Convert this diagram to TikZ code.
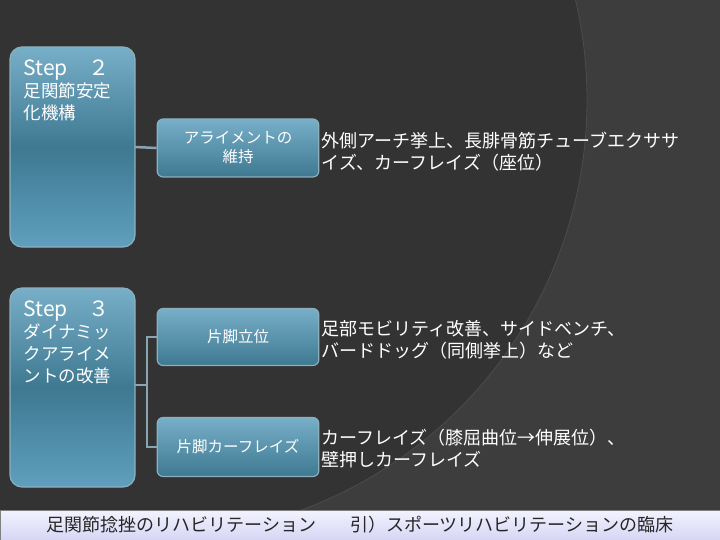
\documentclass[tikz,border=0pt]{standalone}
\usepackage{fontspec}
\setmainfont{Noto Sans CJK JP}
\definecolor{btop}{RGB}{120,175,200}
\definecolor{bmid}{RGB}{62,120,145}
\definecolor{bbot}{RGB}{95,160,190}
\definecolor{bdr}{RGB}{140,175,190}
\begin{document}
\begin{tikzpicture}[x=1pt,y=-1pt,
  big/.style={draw=bdr,line width=1.2pt,rounded corners=12pt,top color=btop,bottom color=bbot,middle color=bmid},
  small/.style={draw=bdr,line width=1.2pt,rounded corners=6pt,top color=btop,bottom color=bmid,minimum width=160pt,text width=155pt,align=center,text=white,font=\fontsize{15.5}{19}\selectfont},
  desc/.style={anchor=west,text=white,align=left,font=\fontsize{18}{22}\selectfont},
  steptxt/.style={anchor=north west,text=white,align=left,font=\fontsize{17.5}{22}\selectfont},
  conn/.style={draw=bdr!80!gray,line width=2.5pt}]
\fill[black!80] (0,0) rectangle (720,540);
\begin{scope}
\clip (0,0) rectangle (720,540);
\fill[black!76] (150,100) ++(-13.2:437) arc[start angle=-13.2,end angle=72,radius=437] -- (720,540) -- (720,0) -- cycle;
\fill[black!80] (150,100) circle[radius=437];
\draw[black!70,line width=0.8pt] (150,100) circle[radius=437];
\end{scope}
\useasboundingbox (0,0) rectangle (720,540);
% step boxes
\path[big] (10,47) rectangle (135,247);
\path[big] (10,288) rectangle (135,487);
\coordinate (s2) at (135,147);
\coordinate (s3) at (135,385);
\node[steptxt] (t2) at (20,56) {\fontsize{21}{24}\selectfont Step　２\\足関節安定\\化機構};
\node[steptxt] (t3) at (20,297) {\fontsize{21}{24}\selectfont Step　３\\ダイナミッ\\クアライメ\\ントの改善};
% children
\node[small,minimum height=58pt] (c1) at (238,148) {アライメントの\\維持};
\node[small,minimum height=57pt] (c2) at (238,337) {片脚立位};
\node[small,minimum height=59pt] (c3) at (238,447) {片脚カーフレイズ};
\coordinate (j) at (147,385);
\draw[conn] (s2) -- (c1.west);
\draw[conn] (s3) -- (j);
\draw[conn] (c2.west) -| (j) |- (c3.west);
% descriptions
\node[desc] (d1) at (318,152) {外側アーチ挙上、長腓骨筋チューブエクササ\\イズ、カーフレイズ（座位）};
\node[desc] (d2) at (318,340) {足部モビリティ改善、サイドベンチ、\\バードドッグ（同側挙上）など};
\node[desc] (d3) at (318,449) {カーフレイズ（膝屈曲位→伸展位）、\\壁押しカーフレイズ};
% bottom bar
\path[top color=white!95!blue,bottom color=gray!40!blue!20!white,draw=gray] (0,510) rectangle (720,540);
\node[font=\fontsize{18}{20}\selectfont,text=black!85] (ft) at (360,525) {足関節捻挫のリハビリテーション\hspace{34pt}引）スポーツリハビリテーションの臨床};
\end{tikzpicture}
\end{document}
